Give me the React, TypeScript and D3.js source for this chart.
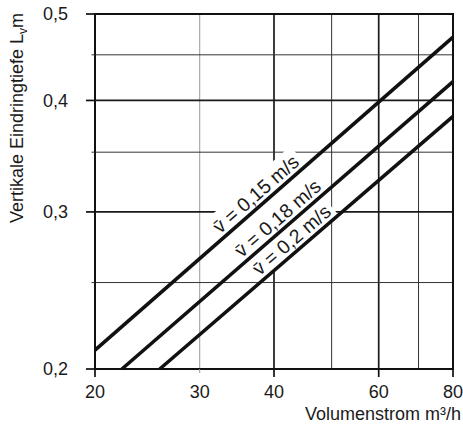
import * as d3 from 'd3'
import { useRef, useEffect } from 'react'

// axis ticks
const xTickValues = [20, 30, 40, 60, 80]
const xTickLabels = ['20', '30', '40', '60', '80']
const yTickValues = [0.2, 0.3, 0.4, 0.5]
const yTickLabels = ['0,2', '0,3', '0,4', '0,5']

// grid lines
const xGridMajor = [40, 60]
const xGridMinor = [50, 70]
const xGridFaint = [30]
const yGridMajor = [0.3, 0.4]
const yGridMinor = [0.25, 0.35, 0.45]

// curves: Volumenstrom (m3/h) -> Eindringtiefe (m)
const v015 = [{ q: 20, l: 0.21 }, { q: 80, l: 0.471 }]
const v018 = [{ q: 22.2, l: 0.2 }, { q: 80, l: 0.42 }]
const v020 = [{ q: 25.7, l: 0.2 }, { q: 80, l: 0.384 }]
const seriesNames = ['v\u0304 = 0,15 m/s', 'v\u0304 = 0,18 m/s', 'v\u0304 = 0,2 m/s']
const labelQ = [38.4, 41.8, 44.1]

const FONT = '"Liberation Sans", Arial, Helvetica, sans-serif'

export default function App() {
    const svgRef = useRef(null)

    useEffect(() => {
        const svg = d3.select(svgRef.current)
        svg.selectAll('*').remove()

        const x = d3.scaleLog().domain([20, 80]).range([95, 453])
        const y = d3.scaleLog().domain([0.2, 0.5]).range([369, 14])
        const [x0, x1] = x.range()
        const [y0, y1] = y.range()

        const gridG = svg.append('g')
        const bandG = svg.append('g')
        const curveG = svg.append('g')
        const labelG = svg.append('g')
        const axisG = svg.append('g')

        // grid
        const vline = (vals, w, col) => gridG.selectAll(null).data(vals).join('line')
            .attr('x1', d => x(d)).attr('x2', d => x(d))
            .attr('y1', y1).attr('y2', y0)
            .attr('stroke', col).attr('stroke-width', w)
        const hline = (vals, w, col) => gridG.selectAll(null).data(vals).join('line')
            .attr('x1', x0).attr('x2', x1)
            .attr('y1', d => y(d)).attr('y2', d => y(d))
            .attr('stroke', col).attr('stroke-width', w)

        vline(xGridFaint, 1, '#9a9a9a')
        vline(xGridMinor, 1, '#333')
        vline(xGridMajor, 1.7, '#1a1a1a')
        hline(yGridMinor, 1, '#333')
        hline(yGridMajor, 1.7, '#1a1a1a')

        // curves + labels
        const series = [v015, v018, v020]
        const line = d3.line().x(d => x(d.q)).y(d => y(d.l))
        const valueAt = (s, q) => {
            const t = Math.log(q / s[0].q) / Math.log(s[1].q / s[0].q)
            return s[0].l * Math.pow(s[1].l / s[0].l, t)
        }

        const labels = series.map((s, i) => {
            const ang = Math.atan2(y(s[1].l) - y(s[0].l), x(s[1].q) - x(s[0].q))
            const px = x(labelQ[i])
            const py = y(valueAt(s, labelQ[i]))
            let h = 25
            if (i > 0) {
                // distance to the curve above, measured along the normal
                const prev = series[i - 1]
                const dy = py - y(valueAt(prev, labelQ[i]))
                h = dy * Math.cos(ang) + 1
            }
            return { name: seriesNames[i], ang, px, py, h, w: 0 }
        })

        const place = d => `translate(${d.px},${d.py}) rotate(${d.ang * 180 / Math.PI})`

        labelG.selectAll('text').data(labels).join('text')
            .attr('transform', place)
            .attr('y', -5)
            .attr('text-anchor', 'middle')
            .attr('font-family', FONT)
            .attr('font-size', 19.5)
            .attr('fill', '#1a1a1a')
            .text(d => d.name)
            .each(function (d) { d.w = this.getComputedTextLength() })

        bandG.selectAll('rect').data(labels).join('rect')
            .attr('transform', place)
            .attr('x', d => -d.w / 2 - 4)
            .attr('width', d => d.w + 8)
            .attr('y', d => -d.h)
            .attr('height', d => d.h)
            .attr('fill', '#fff')

        curveG.selectAll('path').data(series).join('path')
            .attr('d', line)
            .attr('fill', 'none')
            .attr('stroke', '#111')
            .attr('stroke-width', 3.6)

        // frame
        axisG.append('rect')
            .attr('x', x0).attr('y', y1)
            .attr('width', x1 - x0).attr('height', y0 - y1)
            .attr('fill', 'none').attr('stroke', '#111').attr('stroke-width', 2)

        // ticks
        axisG.selectAll(null).data(xTickValues).join('line')
            .attr('x1', d => x(d)).attr('x2', d => x(d))
            .attr('y1', y0).attr('y2', d => y0 + (d === 30 ? 4 : 8))
            .attr('stroke', d => d === 30 ? '#9a9a9a' : '#111')
            .attr('stroke-width', d => d === 30 ? 1 : 1.7)
        axisG.selectAll(null).data(yTickValues).join('line')
            .attr('x1', x0 - 9).attr('x2', x0)
            .attr('y1', d => y(d)).attr('y2', d => y(d))
            .attr('stroke', '#111').attr('stroke-width', 1.7)
        axisG.selectAll(null).data(yGridMinor).join('line')
            .attr('x1', x0 - 3.5).attr('x2', x0)
            .attr('y1', d => y(d)).attr('y2', d => y(d))
            .attr('stroke', '#333').attr('stroke-width', 1)

        // tick labels
        axisG.selectAll(null).data(xTickValues).join('text')
            .attr('x', d => x(d)).attr('y', 398)
            .attr('text-anchor', 'middle')
            .attr('font-family', FONT).attr('font-size', 18).attr('fill', '#1a1a1a')
            .text((_, i) => xTickLabels[i])
        axisG.selectAll(null).data(yTickValues).join('text')
            .attr('x', 68).attr('y', d => y(d)).attr('dy', '0.36em')
            .attr('text-anchor', 'end')
            .attr('font-family', FONT).attr('font-size', 18).attr('fill', '#1a1a1a')
            .text((_, i) => yTickLabels[i])

        // axis titles
        axisG.append('text')
            .attr('x', 461).attr('y', 420)
            .attr('text-anchor', 'end')
            .attr('font-family', FONT).attr('font-size', 18).attr('fill', '#1a1a1a')
            .text('Volumenstrom m³/h')

        const yt = axisG.append('text')
            .attr('transform', 'translate(23,118) rotate(-90)')
            .attr('text-anchor', 'middle')
            .attr('font-family', FONT).attr('font-size', 18).attr('fill', '#1a1a1a')
        yt.append('tspan').text('Vertikale Eindringtiefe L')
        yt.append('tspan').attr('font-size', 12).attr('dy', 4).text('v')
        yt.append('tspan').attr('dy', -4).text('m')
    }, [])

    return (
        <svg ref={svgRef} width={463} height={426}
            style={{ position: 'absolute', left: 0, top: 0, background: '#fff', display: 'block' }}></svg>
    )
}
